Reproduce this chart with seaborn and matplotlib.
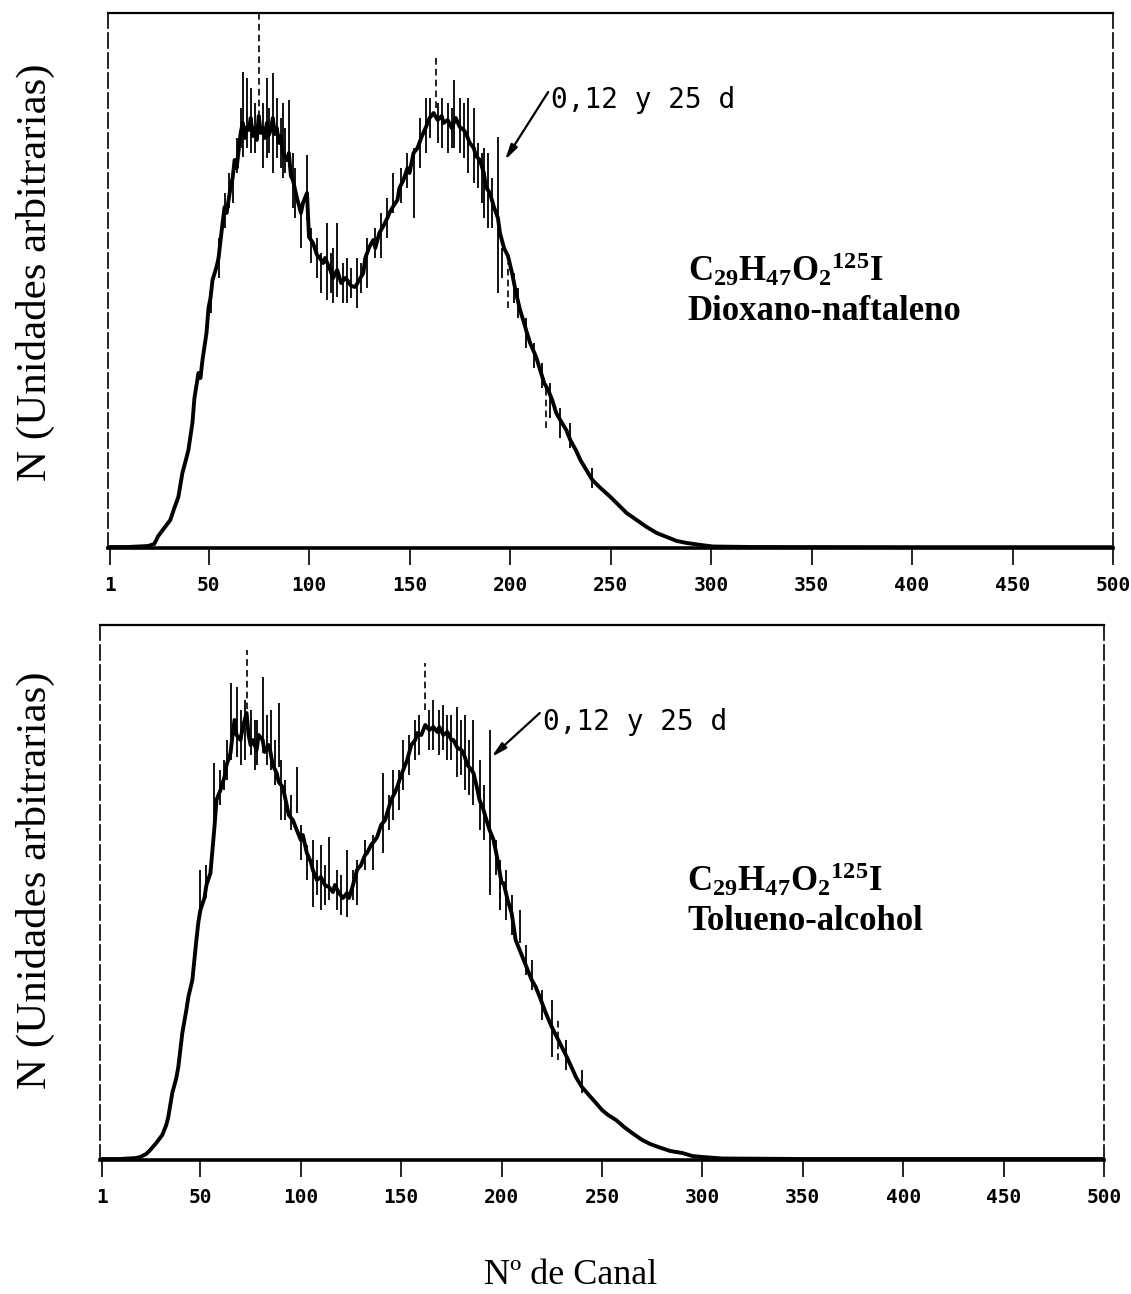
import pandas as pd
import matplotlib
matplotlib.use("Agg")
import matplotlib.pyplot as plt
import seaborn as sns

# --- eje de canales -------------------------------------------------------
tick_canales = [1, 50, 100, 150, 200, 250, 300, 350, 400, 450, 500]
tick_etiquetas = ["1", "50", "100", "150", "200", "250", "300", "350", "400", "450", "500"]

# --- espectro en dioxano-naftaleno (cuentas, unidades arbitrarias) --------
canal_diox = [1, 10, 20, 23, 25, 28, 31, 33, 35, 37, 39, 40, 42, 43, 45, 46, 47, 49, 50, 51,
              52, 54, 55, 57, 58, 59, 61, 62, 63, 64, 66, 67, 68, 69, 70, 71, 72, 73, 74, 75,
              76, 77, 78, 79, 80, 81, 82, 83, 84, 85, 86, 87, 89, 90, 91, 92, 94, 96, 97, 99,
              100, 102, 104, 105, 107, 108, 110, 112, 114, 116, 118, 119, 121, 123, 125, 127, 128, 130, 132, 133,
              135, 137, 139, 140, 142, 144, 145, 147, 149, 150, 152, 154, 156, 158, 160, 162, 164, 166, 167, 169,
              171, 173, 175, 177, 178, 180, 182, 183, 185, 187, 188, 190, 192, 194, 195, 197, 199, 201, 203, 205,
              207, 208, 210, 213, 215, 217, 219, 221, 223, 225, 228, 230, 233, 235, 238, 241, 245, 250, 254, 258,
              263, 268, 273, 278, 283, 288, 295, 301, 320, 400, 500]
n_diox = [1, 1, 2, 4, 12, 20, 28, 40, 51, 75, 90, 98, 125, 150, 175, 170, 188, 215, 240, 250,
          268, 281, 290, 325, 341, 335, 361, 370, 388, 380, 415, 425, 410, 421, 418, 430, 412, 420, 408, 432,
          415, 420, 410, 425, 413, 418, 430, 414, 420, 405, 412, 395, 388, 395, 372, 368, 350, 335, 345, 355,
          311, 305, 293, 291, 285, 290, 281, 270, 278, 265, 270, 268, 262, 261, 268, 275, 290, 301, 308, 300,
          315, 322, 330, 335, 342, 348, 360, 368, 380, 375, 395, 400, 411, 420, 430, 435, 428, 432, 425, 428,
          420, 430, 421, 418, 415, 405, 400, 392, 388, 375, 361, 355, 341, 330, 315, 300, 292, 275, 255, 238,
          225, 218, 205, 191, 178, 165, 158, 148, 135, 128, 118, 108, 97, 88, 78, 68, 60, 51, 43, 35,
          28, 21, 15, 11, 7, 5, 3, 1.5, 1, 0.8, 0.8]

# fluctuaciones entre medidas (0, 12 y 25 d): canal, minimo, maximo
pico_diox_canal = [51, 55, 58, 60, 62, 64, 66, 67, 69, 71, 73, 77,
                   79, 80, 82, 84, 86, 87, 88, 90, 92, 93, 96, 99,
                   101, 104, 106, 109, 111, 112, 114, 117, 119, 121, 124, 126,
                   129, 133, 136, 139, 142, 146, 149, 152, 155, 158, 160, 164,
                   166, 169, 171, 172, 175, 177, 179, 182, 184, 186, 187, 189,
                   191, 194, 196, 202, 204, 208, 212, 216, 220, 225, 230, 241]
pico_diox_min = [235, 270, 320, 340, 345, 375, 400, 391, 400, 395, 395, 380,
                 390, 395, 375, 390, 380, 370, 375, 381, 340, 330, 300, 328,
                 285, 270, 255, 248, 255, 245, 251, 245, 245, 250, 240, 255,
                 260, 290, 290, 310, 335, 345, 360, 330, 380, 395, 410, 405,
                 400, 395, 400, 400, 395, 390, 375, 365, 360, 345, 330, 320,
                 320, 255, 270, 245, 230, 200, 180, 160, 130, 110, 100, 60]
pico_diox_max = [255, 310, 355, 375, 380, 410, 440, 476, 470, 460, 445, 445,
                 470, 440, 475, 450, 430, 445, 420, 448, 395, 380, 340, 393,
                 320, 310, 295, 325, 295, 300, 325, 285, 290, 280, 290, 285,
                 310, 320, 335, 350, 375, 380, 395, 400, 430, 450, 450, 445,
                 450, 445, 440, 468, 450, 445, 450, 440, 405, 395, 400, 395,
                 370, 411, 300, 275, 260, 230, 205, 185, 165, 140, 125, 80]
trazo_diox_canal = [75, 163, 199, 218]
trazo_diox_min = [420, 440, 240, 120]
trazo_diox_max = [535, 493, 285, 160]

# --- espectro en tolueno-alcohol ------------------------------------------
canal_tol = [1, 10, 18, 20, 23, 25, 28, 31, 33, 34, 36, 38, 39, 40, 41, 43, 44, 46, 47, 48,
             49, 50, 52, 53, 55, 56, 57, 58, 60, 62, 63, 65, 66, 67, 68, 70, 71, 73, 74, 75,
             76, 78, 79, 81, 82, 84, 85, 86, 88, 89, 91, 93, 94, 96, 98, 100, 101, 103, 105, 106,
             108, 110, 112, 114, 116, 117, 119, 121, 123, 124, 126, 128, 130, 132, 133, 135, 137, 138, 140, 142,
             143, 145, 147, 148, 150, 152, 153, 155, 157, 158, 160, 162, 164, 166, 168, 169, 171, 173, 175, 176,
             178, 180, 181, 183, 185, 186, 188, 189, 191, 192, 194, 196, 198, 200, 201, 203, 205, 207, 209, 211,
             213, 215, 217, 219, 222, 225, 227, 229, 232, 235, 237, 240, 243, 247, 250, 253, 257, 261, 265, 270,
             274, 278, 284, 290, 295, 300, 310, 350, 500]
n_tol = [1, 1, 2, 3, 6, 10, 17, 25, 35, 43, 67, 82, 93, 110, 127, 150, 163, 180, 200, 220,
         238, 250, 262, 275, 287, 310, 333, 360, 370, 383, 395, 407, 425, 440, 425, 420, 432, 447, 425, 415,
         420, 410, 425, 420, 408, 415, 407, 395, 387, 378, 373, 355, 345, 340, 330, 320, 325, 307, 298, 290,
         280, 283, 275, 273, 268, 275, 267, 262, 267, 262, 275, 290, 295, 305, 307, 315, 320, 323, 335, 340,
         347, 360, 368, 373, 385, 395, 400, 415, 420, 427, 425, 435, 430, 433, 428, 433, 425, 428, 420, 420,
         412, 410, 407, 395, 390, 387, 370, 360, 350, 343, 330, 320, 300, 277, 277, 260, 247, 220, 210, 200,
         190, 180, 173, 163, 147, 133, 125, 117, 105, 92, 83, 73, 66, 57, 50, 45, 40, 33, 27, 20,
         16, 13, 9, 7, 4, 3, 1.5, 1, 1]

pico_tol_canal = [50, 53, 57, 60, 62, 63, 65, 68, 70, 72, 75, 77,
                  78, 81, 83, 85, 87, 89, 90, 92, 95, 98, 100, 103,
                  106, 108, 110, 112, 114, 118, 120, 123, 126, 128, 132, 136,
                  141, 144, 146, 149, 151, 154, 157, 159, 164, 166, 169, 171,
                  173, 175, 178, 180, 182, 184, 186, 189, 191, 194, 197, 199,
                  202, 205, 209, 212, 215, 220, 225, 232, 240]
pico_tol_min = [247, 262, 340, 355, 370, 380, 400, 403, 395, 400, 405, 390,
                395, 407, 395, 390, 375, 393, 340, 340, 330, 347, 300, 280,
                253, 265, 250, 255, 260, 250, 245, 243, 260, 255, 290, 290,
                307, 330, 340, 350, 370, 385, 400, 405, 410, 410, 405, 410,
                400, 400, 383, 385, 370, 365, 355, 330, 320, 265, 285, 250,
                240, 225, 217, 185, 170, 140, 103, 90, 67]
pico_tol_max = [290, 295, 397, 390, 400, 420, 477, 473, 450, 460, 450, 440,
                440, 483, 445, 450, 420, 457, 400, 380, 365, 393, 335, 315,
                320, 300, 315, 295, 323, 290, 285, 310, 290, 300, 320, 325,
                387, 365, 390, 390, 420, 425, 440, 445, 450, 460, 450, 455,
                445, 445, 453, 440, 445, 420, 440, 400, 375, 430, 320, 300,
                290, 265, 250, 215, 200, 170, 160, 120, 90]
trazo_tol_canal = [73, 162, 199, 228]
trazo_tol_min = [440, 450, 250, 100]
trazo_tol_max = [510, 497, 300, 140]

# --- estilo ---------------------------------------------------------------
sns.set_style("white")
plt.rcParams["font.family"] = ["Liberation Serif", "DejaVu Serif"]
plt.rcParams["mathtext.fontset"] = "custom"
plt.rcParams["mathtext.rm"] = "Liberation Serif:bold"
plt.rcParams["mathtext.it"] = "Liberation Serif:italic"
plt.rcParams["mathtext.bf"] = "Liberation Serif:bold"

W, H = 1131, 1294
fig = plt.figure(figsize=(W / 100, H / 100), dpi=100)
ax_sup = fig.add_axes([108 / W, 1 - 548 / H, 1005 / W, 535 / H])
ax_inf = fig.add_axes([100 / W, 1 - 1160 / H, 1004 / W, 535 / H])


def dibuja_panel(ax, canal, n, p_c, p_lo, p_hi, t_c, t_lo, t_hi, disolvente,
                 punta, cola, pos_texto, pos_formula):
    df = pd.DataFrame({"canal": canal, "N": n})
    sns.lineplot(data=df, x="canal", y="N", ax=ax, color="black", lw=2.8,
                 estimator=None, sort=False)
    ax.vlines(p_c, p_lo, p_hi, colors="black", lw=1.3)
    ax.vlines(t_c, t_lo, t_hi, colors="black", lw=1.2, linestyles=(0, (4, 2.5)))

    ax.set_xlim(0, 500)
    ax.set_ylim(0, 535)
    ax.set_xticks(tick_canales, tick_etiquetas, fontfamily="DejaVu Sans Mono",
                  fontsize=14, fontweight="bold")
    ax.set_yticks([])
    ax.tick_params(axis="x", bottom=True, direction="out", length=12, width=1.2,
                   pad=8, color="black", labelcolor="black")
    ax.set_xlabel("")
    ax.set_ylabel("")

    for lado in ("left", "right"):
        ax.spines[lado].set_visible(True)
        ax.spines[lado].set_color("black")
        ax.spines[lado].set_linewidth(1.2)
        ax.spines[lado].set_linestyle((0, (9, 3)))
    ax.spines["top"].set_color("black")
    ax.spines["top"].set_linewidth(1.6)
    ax.spines["bottom"].set_color("black")
    ax.spines["bottom"].set_linewidth(2.6)

    ax.annotate("", xy=punta, xytext=cola,
                arrowprops=dict(arrowstyle="-|>,head_length=0.9,head_width=0.22",
                                color="black", lw=1.6, shrinkA=0, shrinkB=0))
    ax.text(pos_texto[0], pos_texto[1], "0,12 y 25 d", ha="left", va="center",
            fontfamily="DejaVu Sans Mono", fontsize=20, color="black")

    ax.text(pos_formula[0], pos_formula[1],
            r"$\mathrm{C_{29}H_{47}O_{2}{}^{125}I}$", ha="left", va="center",
            fontsize=25, color="black")
    ax.text(pos_formula[0], pos_formula[1] - 42, disolvente, ha="left", va="center",
            fontsize=25, fontweight="bold", color="black")


dibuja_panel(ax_sup, canal_diox, n_diox, pico_diox_canal, pico_diox_min, pico_diox_max,
             trazo_diox_canal, trazo_diox_min, trazo_diox_max, "Dioxano-naftaleno",
             punta=(197.5, 388), cola=(219, 456), pos_texto=(220.5, 448),
             pos_formula=(288.5, 278))
dibuja_panel(ax_inf, canal_tol, n_tol, pico_tol_canal, pico_tol_min, pico_tol_max,
             trazo_tol_canal, trazo_tol_min, trazo_tol_max, "Tolueno-alcohol",
             punta=(195, 403), cola=(219, 447), pos_texto=(220.5, 438),
             pos_formula=(292.5, 280))

for yc in (272, 880):
    fig.text(35 / W, 1 - yc / H, "N (Unidades arbitrarias)", rotation=90,
             ha="center", va="center", fontsize=31, color="black")
fig.text(571 / W, 1 - 1275 / H, "Nº de Canal", ha="center", va="center",
         fontsize=26, color="black")

fig.savefig("out.png", dpi=100, facecolor="white")
